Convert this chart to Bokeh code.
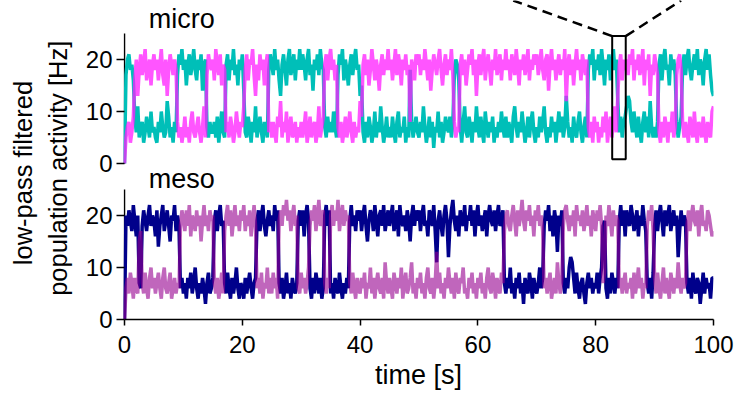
import numpy as np
from bokeh.plotting import figure
from bokeh.models import Range1d, FixedTicker, Label
from bokeh.layouts import row
from bokeh.embed import file_html
from bokeh.resources import INLINE

dt = 0.25
micro_cyan = [
    0, 17, 20, 21, 18, 19, 16, 9, 6, 11, 5, 7, 8, 4, 6, 9, 7, 5, 10, 6,
    7, 5, 4, 8, 6, 10, 7, 5, 6, 12, 9, 5, 7, 4, 8, 6, 17, 21, 19, 22,
    18, 20, 15, 19, 21, 17, 19, 22, 18, 16, 20, 18, 21, 14, 19, 20, 7, 5, 8, 6,
    6, 8, 5, 9, 4, 7, 10, 6, 5, 19, 21, 16, 20, 18, 22, 17, 19, 15, 20, 18,
    21, 14, 6, 5, 9, 7, 4, 8, 6, 11, 5, 7, 9, 6, 4, 8, 7, 5, 18, 21,
    19, 17, 22, 18, 20, 16, 13, 19, 21, 18, 15, 20, 22, 17, 19, 21, 16, 20, 18, 22,
    18, 21, 19, 16, 20, 22, 17, 19, 14, 20, 18, 21, 17, 22, 19, 18, 7, 5, 9, 6,
    8, 6, 10, 7, 5, 17, 21, 19, 22, 16, 20, 18, 15, 19, 21, 17, 20, 22, 18, 19,
    13, 15, 6, 4, 8, 5, 9, 7, 4, 6, 10, 5, 8, 6, 11, 7, 4, 6, 9, 5,
    7, 5, 9, 6, 4, 8, 10, 5, 7, 6, 9, 4, 7, 5, 18, 8, 5, 7, 9, 6,
    5, 8, 6, 11, 7, 4, 6, 9, 5, 8, 3, 7, 6, 10, 5, 8, 4, 6, 9, 7,
    6, 9, 5, 8, 17, 20, 19, 16, 7, 4, 8, 11, 6, 5, 9, 7, 4, 8, 6, 11,
    7, 5, 9, 6, 4, 10, 7, 5, 8, 6, 9, 4, 7, 5, 8, 6, 10, 7, 5, 9,
    5, 8, 6, 4, 9, 11, 7, 5, 8, 6, 10, 7, 4, 6, 9, 5, 8, 10, 6, 4,
    7, 5, 9, 6, 8, 11, 6, 4, 7, 5, 9, 6, 8, 4, 7, 10, 6, 9, 5, 7,
    13, 8, 5, 7, 4, 9, 6, 5, 8, 10, 6, 4, 7, 9, 5, 18, 21, 19, 22, 16,
    20, 18, 21, 17, 22, 19, 15, 20, 18, 21, 16, 19, 22, 18, 20, 12, 6, 9, 5, 8,
    9, 11, 13, 12, 8, 6, 10, 7, 5, 9, 6, 4, 8, 10, 6, 9, 5, 12, 7, 5,
    7, 5, 8, 19, 21, 16, 20, 22, 18, 19, 15, 21, 18, 20, 17, 8, 5, 7, 9, 18,
    21, 17, 20, 22, 18, 16, 19, 21, 18, 22, 17, 20, 19, 15, 20, 22, 18, 21, 17, 14,
    13,
]
micro_magenta = [
    0, 5, 7, 8, 4, 6, 9, 16, 20, 13, 18, 21, 17, 19, 22, 16, 18, 20, 15, 19,
    21, 18, 20, 16, 19, 22, 17, 15, 20, 13, 18, 21, 19, 17, 20, 18, 8, 5, 7, 4,
    6, 9, 5, 7, 4, 8, 10, 6, 5, 7, 9, 6, 4, 7, 11, 5, 17, 21, 19, 18,
    20, 16, 22, 19, 17, 21, 15, 19, 18, 6, 8, 5, 9, 7, 4, 6, 10, 7, 5, 8,
    7, 11, 18, 21, 16, 20, 19, 22, 17, 13, 19, 16, 21, 18, 20, 15, 19, 21, 6, 8,
    5, 8, 6, 4, 9, 7, 12, 5, 8, 6, 10, 4, 7, 9, 5, 6, 8, 4, 7, 5,
    8, 5, 7, 10, 4, 6, 9, 5, 7, 8, 4, 6, 11, 5, 7, 9, 19, 21, 16, 20,
    22, 18, 20, 16, 19, 7, 5, 8, 4, 6, 9, 5, 7, 10, 6, 4, 8, 5, 7, 6,
    12, 9, 19, 21, 17, 20, 15, 18, 22, 19, 16, 20, 18, 14, 19, 21, 17, 20, 18, 22,
    18, 20, 16, 19, 22, 17, 21, 19, 15, 20, 18, 21, 17, 19, 8, 20, 18, 16, 21, 19,
    21, 17, 20, 18, 22, 19, 16, 20, 14, 18, 21, 19, 17, 20, 22, 18, 15, 19, 21, 17,
    20, 18, 22, 17, 8, 5, 7, 6, 19, 21, 17, 20, 15, 18, 21, 19, 22, 17, 20, 13,
    19, 21, 17, 20, 22, 16, 19, 21, 18, 15, 20, 18, 22, 17, 19, 21, 16, 20, 18, 22,
    18, 20, 16, 21, 19, 17, 22, 19, 15, 20, 18, 21, 17, 19, 22, 16, 20, 18, 21, 19,
    21, 17, 19, 22, 18, 16, 20, 21, 14, 19, 22, 18, 20, 16, 19, 21, 17, 20, 18, 22,
    12, 19, 21, 17, 20, 15, 19, 22, 18, 20, 16, 21, 19, 17, 20, 7, 5, 8, 4, 9,
    6, 8, 4, 7, 5, 9, 6, 10, 4, 7, 9, 5, 8, 11, 6, 13, 19, 21, 16, 20,
    18, 20, 17, 21, 19, 22, 16, 20, 18, 21, 17, 19, 22, 15, 20, 18, 21, 13, 19, 17,
    21, 19, 17, 6, 4, 8, 5, 9, 7, 4, 8, 6, 10, 5, 7, 17, 20, 21, 18, 8,
    5, 8, 6, 4, 9, 7, 5, 10, 6, 4, 8, 7, 5, 9, 6, 4, 8, 6, 5, 10,
    11,
]
meso_navy = [
    0, 20, 18, 21, 19, 17, 22, 19, 16, 20, 7, 6, 18, 21, 19, 17, 20, 22, 18, 20,
    19, 16, 21, 14, 18, 20, 22, 17, 19, 21, 18, 15, 20, 19, 22, 17, 20, 18, 6, 8,
    5, 7, 4, 8, 6, 9, 5, 7, 10, 6, 4, 7, 5, 8, 6, 3, 7, 9, 5, 6,
    8, 19, 21, 17, 20, 22, 18, 19, 7, 5, 9, 6, 4, 8, 5, 7, 10, 6, 4, 7,
    6, 4, 8, 5, 7, 9, 6, 4, 7, 8, 19, 21, 17, 20, 22, 18, 16, 19, 21, 18,
    20, 17, 22, 19, 21, 7, 5, 8, 4, 6, 9, 5, 7, 4, 8, 6, 5, 7, 19, 21,
    18, 21, 16, 20, 22, 19, 6, 4, 8, 5, 9, 7, 5, 8, 4, 6, 20, 22, 18, 21,
    5, 7, 4, 8, 6, 5, 9, 6, 4, 7, 5, 8, 6, 19, 22, 18, 20, 17, 21, 19,
    21, 17, 20, 22, 18, 15, 19, 21, 20, 17, 22, 19, 16, 20, 21, 18, 22, 17, 19, 21,
    18, 20, 22, 17, 19, 21, 16, 22, 19, 18, 20, 17, 21, 19, 15, 20, 22, 18, 21, 19,
    21, 17, 20, 22, 18, 19, 16, 21, 20, 18, 22, 17, 11, 19, 21, 18, 16, 20, 22, 19,
    12, 18, 21, 23, 19, 17, 20, 16, 21, 19, 18, 22, 17, 20, 19, 22, 18, 21, 16, 20,
    22, 18, 20, 17, 19, 21, 16, 20, 22, 19, 18, 21, 17, 20, 22, 18, 19, 21, 7, 5,
    8, 6, 10, 5, 7, 4, 8, 6, 9, 5, 7, 3, 8, 6, 5, 9, 7, 4, 8, 6,
    5, 7, 10, 6, 8, 18, 21, 19, 22, 17, 20, 16, 21, 19, 13, 20, 18, 21, 7, 5,
    8, 6, 10, 12, 11, 8, 5, 9, 6, 4, 7, 8, 5, 3, 7, 9, 6, 8, 5, 7,
    6, 9, 5, 8, 10, 18, 19, 6, 4, 8, 5, 9, 7, 5, 8, 6, 19, 22, 18, 21,
    16, 21, 19, 18, 22, 20, 17, 19, 21, 16, 20, 18, 22, 19, 17, 7, 5, 8, 4, 9,
    18, 21, 17, 20, 22, 19, 16, 21, 18, 20, 22, 17, 19, 21, 18, 20, 12, 17, 21, 18,
    20, 19, 7, 5, 8, 4, 9, 6, 5, 8, 7, 3, 6, 9, 5, 8, 6, 7, 4, 8,
    8,
]
meso_orchid = [
    0, 6, 8, 5, 9, 7, 4, 8, 6, 5, 15, 17, 7, 5, 9, 6, 4, 8, 10, 6,
    8, 5, 7, 9, 6, 4, 8, 10, 6, 5, 7, 9, 4, 6, 8, 5, 7, 6, 18, 21,
    19, 17, 21, 18, 22, 16, 20, 19, 17, 21, 18, 20, 15, 19, 22, 18, 20, 17, 21, 19,
    20, 7, 5, 8, 4, 6, 9, 5, 17, 20, 22, 18, 21, 16, 19, 22, 18, 20, 17, 21,
    19, 22, 17, 20, 18, 21, 16, 19, 22, 18, 6, 8, 5, 9, 4, 7, 6, 10, 5, 8,
    5, 9, 6, 8, 4, 19, 21, 18, 22, 20, 23, 19, 21, 17, 20, 22, 18, 20, 6, 5,
    9, 6, 8, 5, 7, 10, 18, 21, 19, 22, 17, 20, 23, 18, 20, 21, 7, 5, 8, 6,
    20, 22, 18, 21, 19, 23, 17, 20, 22, 18, 21, 19, 20, 7, 5, 9, 6, 4, 8, 6,
    5, 8, 6, 9, 4, 7, 6, 10, 5, 8, 4, 7, 9, 6, 5, 8, 4, 11, 7, 5,
    8, 6, 4, 9, 7, 5, 8, 6, 10, 4, 7, 9, 5, 6, 8, 11, 5, 7, 4, 8,
    6, 9, 5, 7, 4, 8, 10, 6, 5, 8, 4, 7, 13, 6, 9, 5, 7, 4, 8, 6,
    10, 7, 5, 8, 4, 9, 6, 5, 8, 7, 10, 5, 6, 4, 8, 6, 9, 5, 7, 4,
    8, 6, 9, 5, 7, 4, 8, 10, 6, 5, 9, 7, 4, 8, 6, 5, 9, 7, 17, 20,
    21, 18, 17, 20, 22, 19, 16, 21, 18, 20, 23, 19, 17, 21, 19, 22, 18, 20, 16, 21,
    19, 22, 18, 20, 17, 6, 8, 5, 7, 9, 4, 6, 8, 5, 11, 7, 5, 8, 18, 21,
    22, 19, 17, 20, 18, 21, 16, 22, 19, 20, 18, 21, 17, 19, 22, 18, 20, 16, 21, 19,
    17, 21, 19, 22, 18, 7, 9, 20, 18, 22, 19, 16, 21, 18, 20, 19, 6, 8, 5, 7,
    9, 5, 7, 6, 8, 4, 9, 5, 7, 10, 6, 8, 4, 7, 6, 18, 21, 19, 22, 17,
    8, 5, 9, 6, 4, 7, 10, 5, 8, 6, 4, 9, 7, 5, 8, 6, 11, 7, 5, 8,
    6, 7, 18, 21, 17, 20, 22, 19, 18, 21, 16, 20, 22, 18, 19, 17, 21, 20, 18, 16,
    17,
]

x_ticks = [0, 20, 40, 60, 80, 100]
y_ticks = [0, 10, 20]
y_max = 25                    # top of each panel's y axis [Hz]
zoom_window = (82.8, 85.1)    # inspected window marked in the micro panel [s]


def times(series):
    return np.arange(len(series)) * dt


# ---------------- styling ----------------
FONT = "Liberation Sans"
CYAN = "#00BFB8"
MAGENTA = "#FF1CFF"      # drawn at alpha 0.75 on top of cyan
NAVY = "#00008B"
ORCHID = "#96008F"       # drawn at alpha 0.6 on top of navy
PX_PER_HZ = 5.2
LAB_W = 82
W_MAIN = 741 - LAB_W
LEFT = 41
RIGHT = 28
H = 403
FRAME_BOTTOM = 319.0          # page y of 0 Hz (meso)
OFF = 30                      # the micro panel sits 30 units above the meso panel
LW = 3.5
X_PAD = 0.17                  # room so the drawn axis lines at t=0 are not clipped

y_span = FRAME_BOTTOM / PX_PER_HZ
main = figure(width=W_MAIN, height=H, title=None,
              x_range=Range1d(-X_PAD, 100),
              y_range=Range1d(0, y_span),
              toolbar_location=None, output_backend="svg",
              min_border_left=LEFT, min_border_right=RIGHT,
              min_border_top=0, min_border_bottom=int(H - FRAME_BOTTOM))
main.extra_y_ranges = {"micro": Range1d(-OFF, y_span - OFF)}
main.outline_line_color = None
main.xgrid.visible = False
main.ygrid.visible = False

# one y axis carries the ticks of both panels
ya = main.yaxis[0]
ya.ticker = FixedTicker(ticks=y_ticks + [t + OFF for t in y_ticks])
ya.major_label_overrides = {t + OFF: str(t) for t in y_ticks}
ya.axis_line_color = None
ya.major_tick_line_width = 1.5
ya.major_tick_line_color = "black"
ya.major_tick_out = 7
ya.major_tick_in = 1
ya.minor_tick_out = 0
ya.minor_tick_in = 0
ya.major_label_text_font = FONT
ya.major_label_text_font_size = "24px"
ya.major_label_text_color = "black"
ya.major_label_standoff = 4

# separate axis spines for the two panels
main.line([0, 0], [0, y_max], line_color="black", line_width=1.5)
main.line([0, 0], [0, y_max], line_color="black", line_width=1.5, y_range_name="micro")

xa = main.xaxis[0]
xa.ticker = FixedTicker(ticks=x_ticks)
xa.bounds = (0, 100)
xa.axis_line_width = 1.5
xa.axis_line_color = "black"
xa.major_tick_line_width = 1.5
xa.major_tick_out = 6
xa.major_tick_in = 0
xa.minor_tick_out = 0
xa.minor_tick_in = 0
xa.major_label_text_font = FONT
xa.major_label_text_font_size = "24px"
xa.major_label_text_color = "black"
xa.major_label_standoff = 10
xa.axis_label = "time [s]"
xa.axis_label_text_font = FONT
xa.axis_label_text_font_size = "27px"
xa.axis_label_text_font_style = "normal"
xa.axis_label_text_color = "black"
xa.axis_label_standoff = 4

# micro panel
main.line(times(micro_cyan), micro_cyan, line_color=CYAN, line_width=LW,
          y_range_name="micro")
main.line(times(micro_magenta), micro_magenta, line_color=MAGENTA, line_alpha=0.75,
          line_width=LW, y_range_name="micro")

# meso panel
main.line(times(meso_navy), meso_navy, line_color=NAVY, line_width=LW)
main.line(times(meso_orchid), meso_orchid, line_color=ORCHID, line_alpha=0.6,
          line_width=LW)

# zoom box with dashed guide lines (micro coordinates)
y_top = y_span - OFF
z0, z1 = zoom_window
main.rect(x=[(z0 + z1) / 2], y=[12.65], width=[z1 - z0], height=[23.7],
          fill_color=None, line_color="black", line_width=2, y_range_name="micro")
main.line([z0, z0 - 16.8], [24.5, y_top], line_color="black", line_width=2.5,
          line_dash="10 6", y_range_name="micro")
main.line([z1, z1 + 9.4], [24.5, y_top], line_color="black", line_width=2.5,
          line_dash="10 6", y_range_name="micro")

main.add_layout(Label(x=4.1, y=27.7, y_range_name="micro", text="micro",
                      text_font=FONT, text_baseline="alphabetic",
                      text_font_size="27px", text_color="black"))
main.add_layout(Label(x=4.1, y=27.1, text="meso",
                      text_font=FONT, text_baseline="alphabetic",
                      text_font_size="27px", text_color="black"))

# shared y label
lab = figure(width=LAB_W, height=H, title=None,
             x_range=Range1d(0, LAB_W), y_range=Range1d(0, H),
             x_axis_location=None, y_axis_location=None,
             toolbar_location=None, output_backend="svg", min_border=0)
lab.outline_line_color = None
lab.xgrid.visible = False
lab.ygrid.visible = False
lab.add_layout(Label(x=22, y=H - 218, text="low-pass filtered", angle=np.pi / 2,
                     text_align="center", text_baseline="alphabetic",
                     text_font=FONT, text_font_size="25.5px", text_color="black"))
lab.add_layout(Label(x=57, y=H - 212, text="population activity [Hz]", angle=np.pi / 2,
                     text_align="center", text_baseline="alphabetic",
                     text_font=FONT, text_font_size="25.5px", text_color="black"))

layout = row(lab, main)
open("out.html", "w").write(file_html(layout, INLINE))
